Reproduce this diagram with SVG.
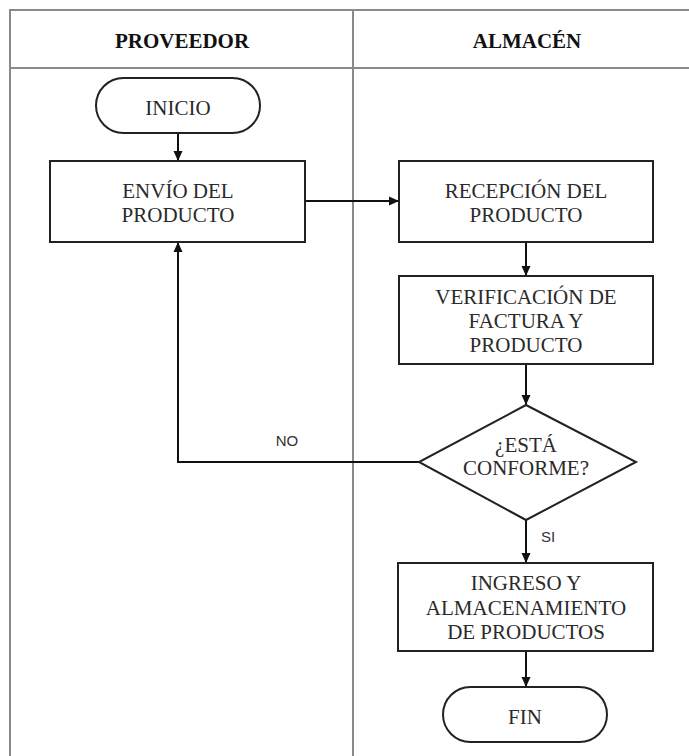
<svg xmlns="http://www.w3.org/2000/svg" width="689" height="756" viewBox="0 0 689 756">
<defs>
<marker id="ah" viewBox="0 0 10 10" refX="10" refY="5" markerWidth="10" markerHeight="10" markerUnits="userSpaceOnUse" orient="auto">
<path d="M0,0.5 L10,5 L0,9.5 Z" fill="#111"/>
</marker>
<style>
.lane{fill:none;stroke:#8a8a8a;stroke-width:2}
.shape{fill:#fff;stroke:#222;stroke-width:2}
.t{font-family:"Liberation Serif","Times New Roman",serif;font-size:21px;fill:#2a2a2a;text-anchor:middle}
.h{font-family:"Liberation Serif","Times New Roman",serif;font-size:21px;font-weight:bold;fill:#111;text-anchor:middle}
.lbl{font-family:"Liberation Sans",Arial,sans-serif;font-size:15px;fill:#333;text-anchor:middle}
.c{fill:none;stroke:#111;stroke-width:2}
</style>
</defs>
<rect width="689" height="756" fill="#fff"/>
<g id="lanes">
<path class="lane" d="M689,10 H10 V756 M10,68 H689 M353,10 V756"/>
<text class="h" x="182" y="48">PROVEEDOR</text>
<text class="h" x="527" y="48">ALMACÉN</text>
</g>
<g id="connectors">
<path class="c" d="M178,133 V161" marker-end="url(#ah)"/>
<path class="c" d="M305,201 H399" marker-end="url(#ah)"/>
<path class="c" d="M526,242 V276" marker-end="url(#ah)"/>
<path class="c" d="M526,364 V405" marker-end="url(#ah)"/>
<path class="c" d="M419,462 H178 V242" marker-end="url(#ah)"/>
<path class="c" d="M526,520 V563" marker-end="url(#ah)"/>
<path class="c" d="M526,651 V687" marker-end="url(#ah)"/>
<text class="lbl" x="287" y="446">NO</text>
<text class="lbl" x="548" y="542">SI</text>
</g>
<g id="inicio">
<rect class="shape" x="96" y="78" width="164" height="55" rx="27.5"/>
<text class="t" x="178" y="115">INICIO</text>
</g>
<g id="envio">
<rect class="shape" x="50" y="161" width="255" height="81"/>
<text class="t" x="178" y="198">ENVÍO DEL</text>
<text class="t" x="178" y="222">PRODUCTO</text>
</g>
<g id="recepcion">
<rect class="shape" x="399" y="161" width="254" height="81"/>
<text class="t" x="526" y="198">RECEPCIÓN DEL</text>
<text class="t" x="526" y="222">PRODUCTO</text>
</g>
<g id="verificacion">
<rect class="shape" x="399" y="276" width="254" height="88"/>
<text class="t" x="526" y="304">VERIFICACIÓN DE</text>
<text class="t" x="526" y="328">FACTURA Y</text>
<text class="t" x="526" y="352">PRODUCTO</text>
</g>
<g id="decision">
<polygon class="shape" points="526,405 636,462 526,520 419,462"/>
<text class="t" x="526" y="452">¿ESTÁ</text>
<text class="t" x="526" y="475">CONFORME?</text>
</g>
<g id="ingreso">
<rect class="shape" x="398" y="563" width="255" height="88"/>
<text class="t" x="526" y="590">INGRESO Y</text>
<text class="t" x="526" y="615">ALMACENAMIENTO</text>
<text class="t" x="526" y="639">DE PRODUCTOS</text>
</g>
<g id="fin">
<rect class="shape" x="443" y="687" width="164" height="55" rx="27.5"/>
<text class="t" x="525" y="724">FIN</text>
</g>
</svg>
